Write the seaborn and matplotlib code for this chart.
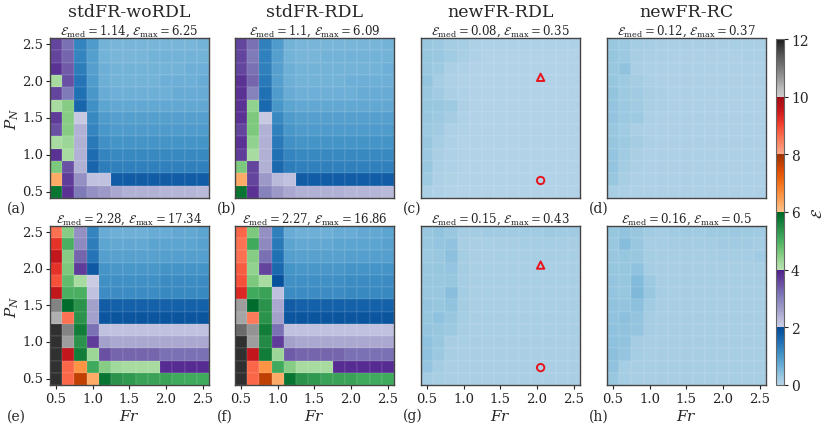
import numpy as np
import pandas as pd
import matplotlib
matplotlib.use("Agg")
import matplotlib.pyplot as plt
from matplotlib.colors import ListedColormap
import seaborn as sns

# ---- grid ----
fr_vals = [0.5, 0.667, 0.833, 1.0, 1.167, 1.333, 1.5, 1.667, 1.833, 2.0, 2.167, 2.333, 2.5]
pn_vals = [2.5, 2.333, 2.167, 2.0, 1.833, 1.667, 1.5, 1.333, 1.167, 1.0, 0.833, 0.667, 0.5]  # rows top -> bottom
tick_vals = [0.5, 1.0, 1.5, 2.0, 2.5]

# ---- error maps (rows: P_N from 2.5 down to 0.5, cols: Fr 0.5 .. 2.5) ----
err_a = [
    [3.6, 3.2, 1.25, 0.95, 0.6, 0.55, 0.55, 0.55, 0.55, 0.55, 0.55, 0.55, 0.6],
    [3.6, 3.3, 1.25, 0.9, 0.6, 0.55, 0.55, 0.55, 0.6, 0.6, 0.6, 0.6, 0.6],
    [3.8, 3.4, 1.35, 0.9, 0.65, 0.6, 0.6, 0.6, 0.6, 0.6, 0.6, 0.65, 0.65],
    [4.2, 3.5, 1.45, 0.95, 0.65, 0.6, 0.6, 0.6, 0.6, 0.65, 0.65, 0.65, 0.7],
    [3.6, 3.1, 1.5, 1.0, 0.7, 0.65, 0.65, 0.65, 0.65, 0.65, 0.7, 0.7, 0.7],
    [4.2, 4.5, 1.65, 1.1, 0.8, 0.75, 0.75, 0.75, 0.75, 0.75, 0.75, 0.75, 0.75],
    [3.7, 4.5, 2.1, 1.2, 0.95, 0.9, 0.9, 0.9, 0.9, 0.9, 0.9, 0.9, 0.9],
    [3.5, 4.5, 2.4, 1.25, 1.0, 0.95, 0.95, 0.95, 0.95, 0.95, 0.95, 0.95, 0.95],
    [4.2, 4.3, 2.4, 1.4, 1.1, 1.05, 1.05, 1.05, 1.05, 1.05, 1.05, 1.05, 1.05],
    [3.8, 4.2, 2.4, 1.55, 1.25, 1.2, 1.2, 1.2, 1.2, 1.2, 1.2, 1.2, 1.2],
    [4.6, 3.5, 2.4, 1.65, 1.35, 1.3, 1.3, 1.3, 1.3, 1.3, 1.3, 1.3, 1.3],
    [6.3, 3.7, 2.8, 2.2, 2.2, 1.75, 1.75, 1.75, 1.75, 1.75, 1.75, 1.75, 1.75],
    [5.8, 3.8, 3.1, 2.8, 2.7, 2.5, 2.4, 2.4, 2.4, 2.35, 2.35, 2.35, 2.3],
]

err_b = [
    [3.6, 3.2, 1.3, 0.95, 0.6, 0.55, 0.55, 0.55, 0.55, 0.55, 0.55, 0.55, 0.6],
    [3.6, 3.1, 1.3, 0.9, 0.6, 0.55, 0.55, 0.6, 0.6, 0.6, 0.6, 0.6, 0.6],
    [3.6, 3.2, 1.3, 0.9, 0.65, 0.6, 0.6, 0.6, 0.6, 0.6, 0.6, 0.6, 0.65],
    [3.8, 3.3, 1.4, 0.9, 0.65, 0.6, 0.6, 0.6, 0.6, 0.65, 0.65, 0.65, 0.65],
    [3.8, 3.0, 1.5, 0.95, 0.7, 0.65, 0.65, 0.65, 0.65, 0.65, 0.7, 0.7, 0.7],
    [3.8, 4.4, 1.6, 1.0, 0.8, 0.75, 0.75, 0.75, 0.75, 0.75, 0.75, 0.75, 0.75],
    [3.8, 4.6, 2.1, 1.2, 0.95, 0.9, 0.9, 0.9, 0.9, 0.9, 0.9, 0.9, 0.9],
    [3.6, 4.6, 2.4, 1.3, 1.0, 0.95, 0.95, 0.95, 0.95, 0.95, 0.95, 0.95, 0.95],
    [3.8, 4.4, 2.4, 1.4, 1.1, 1.05, 1.05, 1.05, 1.05, 1.05, 1.05, 1.05, 1.05],
    [3.7, 4.2, 2.4, 1.5, 1.25, 1.2, 1.2, 1.2, 1.2, 1.2, 1.2, 1.2, 1.2],
    [4.6, 3.6, 2.4, 1.6, 1.35, 1.3, 1.3, 1.3, 1.3, 1.3, 1.3, 1.3, 1.3],
    [6.3, 3.6, 2.7, 2.3, 2.2, 1.75, 1.75, 1.75, 1.75, 1.75, 1.75, 1.75, 1.75],
    [5.8, 3.8, 3.0, 2.7, 2.5, 2.4, 2.4, 2.4, 2.4, 2.35, 2.35, 2.35, 2.3],
]

err_c = [
    [0.30, 0.28, 0.20, 0.18, 0.10, 0.08, 0.08, 0.08, 0.08, 0.08, 0.08, 0.08, 0.08],
    [0.32, 0.30, 0.22, 0.15, 0.08, 0.06, 0.06, 0.06, 0.06, 0.06, 0.06, 0.06, 0.06],
    [0.30, 0.26, 0.12, 0.08, 0.06, 0.05, 0.05, 0.05, 0.05, 0.05, 0.05, 0.05, 0.05],
    [0.35, 0.20, 0.10, 0.07, 0.05, 0.05, 0.05, 0.05, 0.05, 0.05, 0.05, 0.05, 0.05],
    [0.30, 0.22, 0.12, 0.08, 0.05, 0.05, 0.05, 0.05, 0.05, 0.05, 0.05, 0.05, 0.05],
    [0.32, 0.30, 0.26, 0.10, 0.06, 0.05, 0.05, 0.05, 0.05, 0.05, 0.05, 0.05, 0.05],
    [0.30, 0.28, 0.20, 0.08, 0.05, 0.05, 0.05, 0.05, 0.05, 0.05, 0.05, 0.05, 0.05],
    [0.28, 0.22, 0.10, 0.07, 0.05, 0.05, 0.05, 0.05, 0.05, 0.05, 0.05, 0.05, 0.05],
    [0.30, 0.18, 0.08, 0.06, 0.05, 0.05, 0.05, 0.05, 0.05, 0.05, 0.05, 0.05, 0.05],
    [0.28, 0.14, 0.08, 0.06, 0.05, 0.05, 0.05, 0.05, 0.05, 0.05, 0.05, 0.05, 0.05],
    [0.30, 0.12, 0.08, 0.06, 0.05, 0.05, 0.05, 0.05, 0.05, 0.05, 0.05, 0.05, 0.05],
    [0.26, 0.10, 0.07, 0.06, 0.05, 0.05, 0.05, 0.05, 0.05, 0.05, 0.05, 0.05, 0.05],
    [0.12, 0.08, 0.06, 0.05, 0.05, 0.05, 0.05, 0.05, 0.05, 0.05, 0.05, 0.05, 0.05],
]

err_d = [
    [0.30, 0.28, 0.20, 0.18, 0.15, 0.14, 0.13, 0.13, 0.13, 0.14, 0.15, 0.15, 0.14],
    [0.32, 0.28, 0.16, 0.13, 0.11, 0.10, 0.10, 0.10, 0.10, 0.10, 0.10, 0.12, 0.12],
    [0.30, 0.37, 0.14, 0.12, 0.10, 0.10, 0.10, 0.10, 0.10, 0.10, 0.10, 0.10, 0.10],
    [0.32, 0.26, 0.20, 0.12, 0.10, 0.10, 0.10, 0.10, 0.10, 0.10, 0.10, 0.10, 0.10],
    [0.35, 0.26, 0.22, 0.16, 0.12, 0.10, 0.10, 0.10, 0.10, 0.10, 0.10, 0.10, 0.10],
    [0.34, 0.28, 0.24, 0.14, 0.11, 0.10, 0.10, 0.10, 0.10, 0.10, 0.10, 0.10, 0.10],
    [0.33, 0.28, 0.26, 0.12, 0.10, 0.10, 0.10, 0.10, 0.10, 0.10, 0.10, 0.10, 0.10],
    [0.30, 0.24, 0.14, 0.10, 0.10, 0.10, 0.10, 0.10, 0.10, 0.10, 0.10, 0.10, 0.10],
    [0.32, 0.26, 0.20, 0.12, 0.10, 0.10, 0.10, 0.10, 0.10, 0.10, 0.10, 0.10, 0.10],
    [0.34, 0.22, 0.14, 0.10, 0.10, 0.10, 0.10, 0.10, 0.10, 0.10, 0.10, 0.10, 0.10],
    [0.33, 0.20, 0.12, 0.10, 0.10, 0.10, 0.10, 0.10, 0.10, 0.10, 0.10, 0.10, 0.10],
    [0.30, 0.16, 0.10, 0.10, 0.10, 0.10, 0.10, 0.10, 0.10, 0.10, 0.10, 0.10, 0.10],
    [0.16, 0.12, 0.10, 0.10, 0.10, 0.10, 0.10, 0.10, 0.10, 0.10, 0.10, 0.10, 0.10],
]

err_e = [
    [8.6, 4.5, 2.8, 1.25, 0.7, 0.65, 0.65, 0.65, 0.7, 0.7, 0.75, 0.75, 0.8],
    [9.2, 5.0, 2.9, 1.35, 0.8, 0.75, 0.75, 0.75, 0.8, 0.8, 0.8, 0.8, 0.85],
    [9.6, 4.5, 3.3, 1.45, 0.9, 0.85, 0.85, 0.85, 0.85, 0.9, 0.9, 0.9, 0.9],
    [9.2, 4.6, 3.7, 1.8, 1.05, 1.0, 1.0, 1.0, 1.0, 1.05, 1.05, 1.05, 1.05],
    [8.9, 4.8, 4.2, 2.05, 1.1, 1.1, 1.1, 1.1, 1.1, 1.15, 1.15, 1.15, 1.15],
    [9.6, 5.0, 5.0, 2.2, 1.15, 1.15, 1.15, 1.15, 1.15, 1.2, 1.2, 1.2, 1.2],
    [10.9, 5.9, 5.4, 2.6, 1.75, 1.7, 1.7, 1.7, 1.7, 1.7, 1.7, 1.7, 1.7],
    [10.4, 8.6, 5.4, 2.6, 1.85, 1.85, 1.85, 1.85, 1.85, 1.85, 1.85, 1.85, 1.85],
    [11.8, 10.9, 5.7, 3.2, 2.2, 2.2, 2.2, 2.2, 2.2, 2.2, 2.2, 2.2, 2.2],
    [11.8, 10.6, 5.4, 3.7, 2.6, 2.5, 2.5, 2.5, 2.5, 2.5, 2.5, 2.5, 2.5],
    [11.8, 9.6, 5.7, 4.3, 3.5, 3.3, 3.3, 3.3, 3.3, 3.2, 3.2, 3.2, 3.2],
    [11.8, 8.7, 6.6, 5.1, 4.5, 4.25, 4.2, 4.2, 4.2, 3.85, 3.85, 3.85, 3.85],
    [11.8, 8.7, 7.7, 6.3, 5.8, 5.4, 5.3, 5.2, 5.2, 5.2, 5.1, 5.1, 5.1],
]

err_f = [
    [8.7, 4.6, 2.8, 1.3, 0.7, 0.65, 0.65, 0.65, 0.7, 0.7, 0.75, 0.75, 0.8],
    [8.6, 5.1, 2.9, 1.4, 0.8, 0.75, 0.75, 0.75, 0.8, 0.8, 0.8, 0.8, 0.85],
    [8.6, 4.5, 3.2, 1.5, 0.9, 0.85, 0.85, 0.85, 0.85, 0.9, 0.9, 0.9, 0.9],
    [8.8, 4.4, 3.6, 1.6, 1.05, 1.0, 1.0, 1.0, 1.0, 1.05, 1.05, 1.05, 1.05],
    [8.9, 4.6, 4.2, 1.9, 1.1, 1.1, 1.1, 1.1, 1.1, 1.15, 1.15, 1.15, 1.15],
    [9.3, 5.1, 5.2, 2.2, 1.15, 1.15, 1.15, 1.15, 1.15, 1.2, 1.2, 1.2, 1.2],
    [10.6, 5.9, 5.4, 2.5, 1.75, 1.7, 1.7, 1.7, 1.7, 1.7, 1.7, 1.7, 1.7],
    [10.5, 8.5, 5.4, 2.6, 1.85, 1.85, 1.85, 1.85, 1.85, 1.85, 1.85, 1.85, 1.85],
    [11.2, 10.7, 5.7, 3.2, 2.2, 2.2, 2.2, 2.2, 2.2, 2.2, 2.2, 2.2, 2.2],
    [11.8, 10.6, 5.5, 3.7, 2.6, 2.5, 2.5, 2.5, 2.5, 2.5, 2.5, 2.5, 2.5],
    [11.8, 9.6, 5.7, 4.3, 3.4, 3.3, 3.3, 3.3, 3.3, 3.2, 3.2, 3.2, 3.2],
    [11.8, 8.7, 6.6, 5.1, 4.5, 4.2, 4.2, 4.2, 3.85, 3.85, 3.85, 3.85, 3.85],
    [11.8, 8.7, 7.7, 6.3, 5.8, 5.4, 5.3, 5.2, 5.2, 5.2, 5.1, 5.1, 5.1],
]

err_g = [
    [0.30, 0.36, 0.30, 0.20, 0.20, 0.22, 0.22, 0.22, 0.24, 0.24, 0.26, 0.24, 0.22],
    [0.30, 0.34, 0.36, 0.16, 0.14, 0.15, 0.16, 0.17, 0.18, 0.18, 0.18, 0.18, 0.16],
    [0.28, 0.30, 0.40, 0.18, 0.14, 0.14, 0.15, 0.15, 0.15, 0.16, 0.16, 0.15, 0.15],
    [0.30, 0.32, 0.34, 0.20, 0.15, 0.15, 0.15, 0.15, 0.15, 0.15, 0.15, 0.15, 0.15],
    [0.30, 0.30, 0.32, 0.18, 0.15, 0.15, 0.15, 0.15, 0.15, 0.15, 0.15, 0.15, 0.15],
    [0.30, 0.30, 0.43, 0.20, 0.15, 0.15, 0.15, 0.15, 0.15, 0.15, 0.15, 0.15, 0.15],
    [0.34, 0.32, 0.36, 0.20, 0.15, 0.15, 0.15, 0.15, 0.15, 0.15, 0.15, 0.15, 0.15],
    [0.32, 0.38, 0.30, 0.18, 0.15, 0.15, 0.15, 0.15, 0.15, 0.15, 0.15, 0.15, 0.15],
    [0.34, 0.32, 0.28, 0.16, 0.15, 0.15, 0.15, 0.15, 0.15, 0.15, 0.15, 0.15, 0.15],
    [0.38, 0.30, 0.16, 0.15, 0.14, 0.14, 0.14, 0.14, 0.14, 0.14, 0.14, 0.14, 0.14],
    [0.38, 0.28, 0.16, 0.14, 0.14, 0.14, 0.14, 0.14, 0.14, 0.14, 0.14, 0.14, 0.14],
    [0.34, 0.20, 0.14, 0.14, 0.14, 0.14, 0.14, 0.14, 0.14, 0.14, 0.14, 0.14, 0.14],
    [0.20, 0.16, 0.14, 0.14, 0.14, 0.14, 0.14, 0.14, 0.14, 0.14, 0.14, 0.14, 0.14],
]

err_h = [
    [0.32, 0.36, 0.30, 0.22, 0.20, 0.24, 0.24, 0.24, 0.26, 0.26, 0.28, 0.26, 0.24],
    [0.30, 0.45, 0.30, 0.18, 0.18, 0.20, 0.20, 0.20, 0.20, 0.22, 0.22, 0.22, 0.20],
    [0.30, 0.32, 0.30, 0.18, 0.16, 0.17, 0.17, 0.17, 0.17, 0.18, 0.18, 0.18, 0.24],
    [0.32, 0.32, 0.38, 0.20, 0.16, 0.16, 0.16, 0.16, 0.16, 0.16, 0.17, 0.17, 0.17],
    [0.34, 0.32, 0.48, 0.28, 0.16, 0.16, 0.16, 0.16, 0.16, 0.16, 0.16, 0.16, 0.16],
    [0.34, 0.32, 0.50, 0.30, 0.18, 0.16, 0.16, 0.16, 0.16, 0.16, 0.16, 0.16, 0.16],
    [0.36, 0.34, 0.40, 0.22, 0.17, 0.16, 0.16, 0.16, 0.16, 0.16, 0.16, 0.16, 0.16],
    [0.36, 0.40, 0.34, 0.20, 0.17, 0.16, 0.16, 0.16, 0.16, 0.16, 0.16, 0.16, 0.16],
    [0.38, 0.36, 0.34, 0.18, 0.16, 0.16, 0.16, 0.16, 0.16, 0.16, 0.16, 0.16, 0.16],
    [0.38, 0.36, 0.20, 0.16, 0.16, 0.16, 0.16, 0.16, 0.16, 0.16, 0.16, 0.16, 0.16],
    [0.40, 0.34, 0.18, 0.16, 0.16, 0.16, 0.16, 0.16, 0.16, 0.16, 0.16, 0.16, 0.16],
    [0.36, 0.18, 0.16, 0.16, 0.16, 0.16, 0.16, 0.16, 0.16, 0.16, 0.16, 0.16, 0.16],
    [0.30, 0.18, 0.16, 0.16, 0.16, 0.16, 0.16, 0.16, 0.16, 0.16, 0.16, 0.16, 0.16],
]

panels = [err_a, err_b, err_c, err_d, err_e, err_f, err_g, err_h]
panel_tags = ["(a)", "(b)", "(c)", "(d)", "(e)", "(f)", "(g)", "(h)"]
method_names = ["stdFR-woRDL", "stdFR-RDL", "newFR-RDL", "newFR-RC"]
err_med = [1.14, 1.1, 0.08, 0.12, 2.28, 2.27, 0.15, 0.16]
err_max = [6.25, 6.09, 0.35, 0.37, 17.34, 16.86, 0.43, 0.5]

# probe points shown on the newFR-RDL panels
probe_fr = [2.05, 2.05]
probe_pn = [2.05, 0.65]
probe_marker = ["^", "o"]

# ---- style ----
sns.set_style("ticks")
plt.rcParams["font.family"] = ["DejaVu Serif"]
plt.rcParams["mathtext.fontset"] = "dejavuserif"

# stacked colormap: each 2-unit band uses its own sequential map
seg_maps = ["Blues", "Purples", "Greens", "Oranges", "Reds", "Greys"]
cmap = ListedColormap(np.vstack([plt.get_cmap(n)(np.linspace(0.3, 0.9, 128)) for n in seg_maps]))

fig = plt.figure(figsize=(8.3, 4.31), dpi=100)
W, H = 830, 431
lefts = [50, 235, 421, 607]
row_box = [(39, 199), (227, 386)]


def fr_to_idx(v):
    return (v - fr_vals[0]) / (fr_vals[1] - fr_vals[0]) + 0.5


def pn_to_idx(v):
    return (pn_vals[0] - v) / (pn_vals[0] - pn_vals[1]) + 0.5


axes = []
for k, data in enumerate(panels):
    r, c = divmod(k, 4)
    top, bot = row_box[r]
    ax = fig.add_axes([lefts[c] / W, 1 - bot / H, 159 / W, (bot - top) / H])
    df = pd.DataFrame(data, index=pn_vals, columns=fr_vals)
    sns.heatmap(df, ax=ax, cmap=cmap, vmin=0, vmax=12, cbar=False,
                linewidths=0.3, linecolor=(1, 1, 1, 0.06), square=False)
    for sp in ax.spines.values():
        sp.set_visible(True)
        sp.set_color("#444444")
        sp.set_linewidth(1.0)

    ax.set_xticks([fr_to_idx(v) for v in tick_vals])
    ax.set_yticks([pn_to_idx(v) for v in tick_vals])
    ax.tick_params(labelsize=9.5, length=3, width=0.8, colors="#222222", pad=2)
    if r == 1:
        ax.set_xticklabels([f"{v:.1f}" for v in tick_vals], rotation=0)
        ax.set_xlabel(r"$Fr$", fontsize=11, labelpad=2)
    else:
        ax.set_xticklabels([])
        ax.set_xlabel("")
        ax.tick_params(axis="x", length=0)
    if c == 0:
        ax.set_yticklabels([f"{v:.1f}" for v in tick_vals], rotation=0)
        ax.set_ylabel(r"$P_N$", fontsize=11, labelpad=1)
    else:
        ax.set_yticklabels([])
        ax.set_ylabel("")
        ax.tick_params(axis="y", length=0)

    ax.set_title(r"$\mathcal{E}_{\rm med}=$" + f"{err_med[k]}, " + r"$\mathcal{E}_{\rm max}=$" + f"{err_max[k]}",
                 fontsize=8.5, pad=3)
    if r == 0:
        ax.text(0.5, 1.11, method_names[c], transform=ax.transAxes,
                ha="center", va="bottom", fontsize=12.5)

    if c == 2:
        for fx, py, mk in zip(probe_fr, probe_pn, probe_marker):
            ax.scatter([fr_to_idx(fx)], [pn_to_idx(py)], marker=mk, s=28,
                       facecolors="none", edgecolors="#e8141c", linewidths=1.4, zorder=5)

    lab_x = -0.27 if c == 0 else -0.115
    lab_y = -0.06 if r == 0 else -0.19
    ax.text(lab_x, lab_y, panel_tags[k], transform=ax.transAxes,
            ha="left", va="center", fontsize=10)
    axes.append(ax)

cax = fig.add_axes([776 / W, 1 - 386 / H, 8 / W, (386 - 40) / H])
cb = fig.colorbar(axes[0].collections[0], cax=cax, ticks=[0, 2, 4, 6, 8, 10, 12])
cb.outline.set_edgecolor("#666666")
cb.outline.set_linewidth(0.8)
cb.ax.tick_params(labelsize=10, length=3, pad=2)
cb.set_label(r"$\mathcal{E}$", fontsize=11)
cb.ax.yaxis.set_label_coords(4.4, 0.5)

fig.savefig("out.png", dpi=100)
